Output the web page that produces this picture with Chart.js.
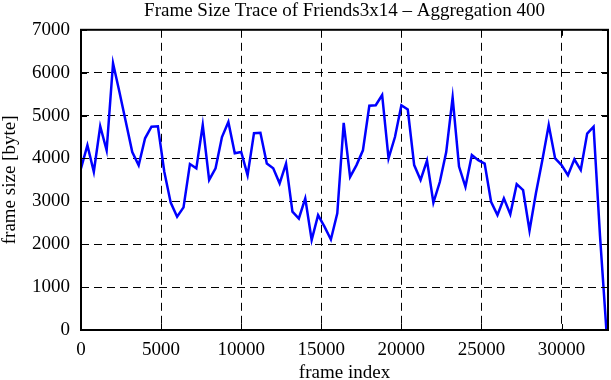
<!DOCTYPE html>
<html>
<head>
<meta charset="utf-8">
<script src="https://cdn.jsdelivr.net/npm/chart.js@4.4.1/dist/chart.umd.min.js"></script>
<style>
  html, body { margin: 0; padding: 0; background: white; }
  #chart { display: block; }
</style>
</head>
<body>
<canvas id="chart" width="611" height="380"></canvas>
<script>
// frame index of each aggregated sample (every 400 frames)
const frameIndex = [
  0, 400, 800, 1200, 1600, 2000, 2400, 2800, 3200, 3600,
  4000, 4400, 4800, 5200, 5600, 6000, 6400, 6800, 7200, 7600,
  8000, 8400, 8800, 9200, 9600, 10000, 10400, 10800, 11200, 11600,
  12000, 12400, 12800, 13200, 13600, 14000, 14400, 14800, 15200, 15600,
  16000, 16400, 16800, 17200, 17600, 18000, 18400, 18800, 19200, 19600,
  20000, 20400, 20800, 21200, 21600, 22000, 22400, 22800, 23200, 23600,
  24000, 24400, 24800, 25200, 25600, 26000, 26400, 26800, 27200, 27600,
  28000, 28400, 28800, 29200, 29600, 30000, 30400, 30800, 31200, 31600,
  32000, 32400, 32800
]
// frame size [byte]
const frameSize = [
  3770, 4310, 3690, 4750, 4190, 6220, 5550, 4850, 4150, 3840,
  4470, 4740, 4750, 3690, 2970, 2640, 2860, 3870, 3770, 4780,
  3500, 3770, 4500, 4850, 4120, 4150, 3610, 4590, 4600, 3880,
  3770, 3420, 3880, 2760, 2600, 3070, 2100, 2680, 2410, 2110,
  2720, 4830, 3570, 3845, 4190, 5230, 5240, 5480, 4000, 4500,
  5240, 5140, 3845, 3500, 3950, 2970, 3450, 4150, 5420, 3810,
  3340, 4080, 3960, 3880, 2990, 2680, 3070, 2700, 3400, 3260,
  2320, 3190, 3960, 4780, 4000, 3845, 3610, 3980, 3730, 4580,
  4740, 2200, 0
]
const xTicks = [0, 5000, 10000, 15000, 20000, 25000, 30000]
const yTicks = [0, 1000, 2000, 3000, 4000, 5000, 6000, 7000]

const serif = '"Liberation Serif", "Times New Roman", serif'
const font = { family: serif, size: 19, weight: 'normal' }
const titleFont = { family: serif, size: 19, weight: 'normal', lineHeight: 1.0 }

// solid box round the plot plus the small inward tick marks
const framePlugin = {
  id: 'frame',
  afterDraw(chart) {
    const { ctx, chartArea: a, scales } = chart
    ctx.save()
    ctx.strokeStyle = '#000'
    ctx.lineWidth = 1
    ctx.setLineDash([])
    ctx.beginPath()
    xTicks.forEach(v => {
      const px = Math.round(scales.x.getPixelForValue(v)) + 0.5
      ctx.moveTo(px, a.bottom); ctx.lineTo(px, a.bottom - 6)
      ctx.moveTo(px, a.top); ctx.lineTo(px, a.top + 6)
    })
    yTicks.forEach(v => {
      const py = Math.round(scales.y.getPixelForValue(v)) + 0.5
      ctx.moveTo(a.left, py); ctx.lineTo(a.left + 6, py)
      ctx.moveTo(a.right, py); ctx.lineTo(a.right - 6, py)
    })
    ctx.stroke()
    ctx.lineWidth = 2
    ctx.strokeRect(a.left, a.top, a.right - a.left, a.bottom - a.top)
    ctx.restore()
  }
}

const ctx = document.getElementById('chart').getContext('2d')
new Chart(ctx, {
  type: 'line',
  data: {
    datasets: [{
      data: frameIndex.map((x, i) => ({ x: x, y: frameSize[i] })),
      borderColor: '#0000ff',
      borderWidth: 2.5,
      pointRadius: 0,
      tension: 0,
      fill: false
    }]
  },
  options: {
    responsive: false,
    animation: false,
    devicePixelRatio: 1,
    layout: { padding: { left: 0, right: 3, top: 0, bottom: 0 } },
    plugins: {
      legend: { display: false },
      tooltip: { enabled: false },
      title: {
        display: true,
        text: 'Frame Size Trace of Friends3x14 \u2013 Aggregation 400',
        fullSize: false,
        color: '#000',
        font: font,
        padding: { top: 0, bottom: 7 }
      }
    },
    scales: {
      x: {
        type: 'linear',
        min: 0,
        max: 32900,
        afterBuildTicks: s => { s.ticks = xTicks.map(v => ({ value: v })) },
        afterFit: s => { s.height = 50 },
        ticks: { color: '#000', font: font, padding: 9, maxRotation: 0, callback: v => String(v) },
        grid: { color: '#000', lineWidth: 1, drawTicks: false },
        border: { display: false, dash: [8, 5] },
        title: { display: true, text: 'frame index', color: '#000', font: titleFont, padding: { top: 0, bottom: -3 } }
      },
      y: {
        min: 0,
        max: 7000,
        afterBuildTicks: s => { s.ticks = yTicks.map(v => ({ value: v })) },
        afterFit: s => { s.width = 81 },
        ticks: { color: '#000', font: font, padding: 11, callback: v => String(v) },
        grid: { color: '#000', lineWidth: 1, drawTicks: false },
        border: { display: false, dash: [8, 5] },
        title: { display: true, text: 'frame size [byte]', color: '#000', font: titleFont, padding: 1 }
      }
    }
  },
  plugins: [framePlugin]
})
</script>
</body>
</html>
